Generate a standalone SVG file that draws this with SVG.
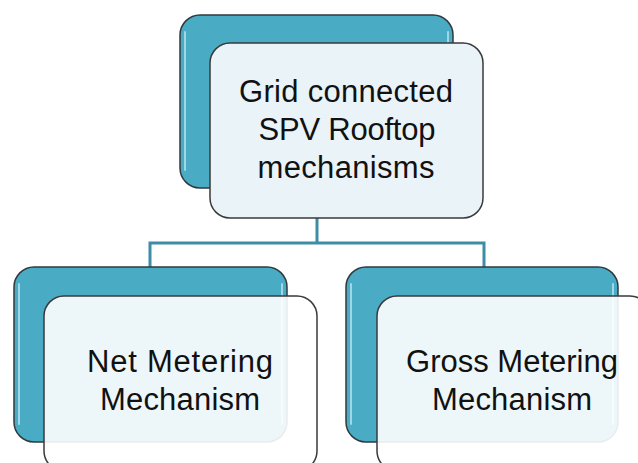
<svg xmlns="http://www.w3.org/2000/svg" width="638" height="463" viewBox="0 0 638 463">
  <style>
    .back { fill: #4AABC5; stroke: #2f3a3e; stroke-width: 1.5; }
    .hl { fill: none; stroke: #b5e2ee; stroke-width: 2; opacity: 0.8; stroke-linecap: round; }
    .front { fill: #EAF3F7; stroke: #3a3a3a; stroke-width: 1.5; }
    .front2 { fill: #ffffff; fill-opacity: 0.9; stroke: #3a3a3a; stroke-width: 1.5; }
    .conn { fill: none; stroke: #3D8DA7; stroke-width: 3; }
    .lbl { font-family: "Liberation Sans", Arial, sans-serif; font-size: 31px; fill: #111; text-anchor: middle; }
  </style>
  <rect width="638" height="463" fill="#ffffff"/>
  <g id="connectors">
    <path class="conn" d="M317 218 V243 M150 267 V243 H484 V267"/>
  </g>
  <g id="node-top">
    <rect class="back" x="180" y="15" width="273" height="173" rx="20"/>
    <path class="hl" d="M185 32 V170 M448 32 V170"/>
    <rect class="front" x="210" y="43" width="273" height="175" rx="20"/>
    <text class="lbl" x="346" y="102" textLength="214" lengthAdjust="spacing">Grid connected</text>
    <text class="lbl" x="347" y="140" textLength="177" lengthAdjust="spacing">SPV Rooftop</text>
    <text class="lbl" x="346" y="178" textLength="177" lengthAdjust="spacing">mechanisms</text>
  </g>
  <g id="node-net">
    <rect class="back" x="14" y="267" width="273" height="175" rx="20"/>
    <path class="hl" d="M19 284 V424 M282 284 V424"/>
    <rect class="front2" x="44" y="296" width="273" height="175" rx="20"/>
    <text class="lbl" x="180" y="372" textLength="186" lengthAdjust="spacing">Net Metering</text>
    <text class="lbl" x="180" y="410" textLength="160" lengthAdjust="spacing">Mechanism</text>
  </g>
  <g id="node-gross">
    <rect class="back" x="346" y="267" width="272" height="175" rx="20"/>
    <path class="hl" d="M351 284 V424 M613 284 V424"/>
    <rect class="front2" x="377" y="296" width="273" height="175" rx="20"/>
    <text class="lbl" x="512" y="372" textLength="212" lengthAdjust="spacing">Gross Metering</text>
    <text class="lbl" x="512" y="410" textLength="160" lengthAdjust="spacing">Mechanism</text>
  </g>
</svg>
